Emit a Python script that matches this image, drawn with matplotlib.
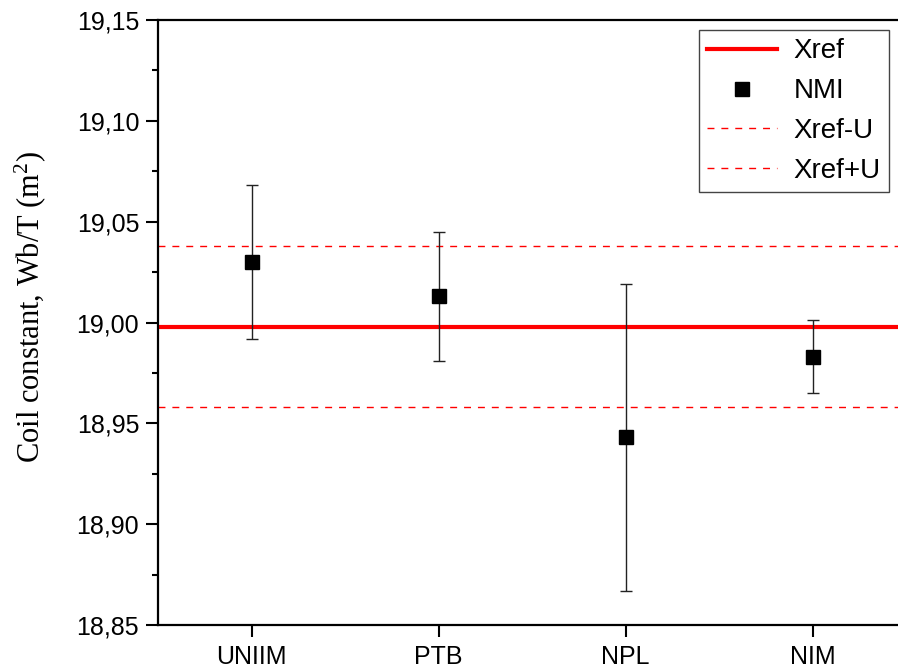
import numpy as np
import matplotlib.pyplot as plt
from matplotlib.lines import Line2D
from matplotlib.ticker import FuncFormatter, MultipleLocator

# Data
labs = ['UNIIM', 'PTB', 'NPL', 'NIM']
vals = [19.030, 19.013, 18.943, 18.983]
errs = [0.038, 0.032, 0.076, 0.018]
xref = 18.998
u_ref = 0.040

plt.rcParams['font.family'] = ['Liberation Sans', 'DejaVu Sans']
plt.rcParams['mathtext.fontset'] = 'custom'
plt.rcParams['mathtext.rm'] = 'Liberation Serif'
plt.rcParams['mathtext.it'] = 'Liberation Serif:italic'

fig = plt.figure(figsize=(8.98, 6.71), dpi=100)
# right side of the frame runs off the picture, as in the reference
ax = fig.add_axes([158 / 898, 46 / 671, (906 - 158) / 898, 605 / 671])

x = np.arange(1, len(labs) + 1)

ax.axhline(xref, color='red', lw=3, zorder=2)
ax.errorbar(x, vals, yerr=errs, fmt='s', color='black', ms=9.5, ecolor='#222222',
            elinewidth=1, capsize=4.5, capthick=1, zorder=3)
ax.axhline(xref - u_ref, color='red', lw=1, ls=(0, (5, 5)), zorder=2)
ax.axhline(xref + u_ref, color='red', lw=1, ls=(0, (5, 5)), zorder=2)

ax.set_xlim(0.5, 4.5)
ax.set_ylim(18.85, 19.15)
ax.set_xticks(x)
ax.set_xticklabels(labs)
ax.yaxis.set_major_locator(MultipleLocator(0.05))
ax.yaxis.set_minor_locator(MultipleLocator(0.025))
ax.yaxis.set_major_formatter(FuncFormatter(lambda v, p: f'{v:.2f}'.replace('.', ',')))

ax.tick_params(axis='both', which='major', direction='out', length=8.5, width=1.5,
               labelsize=18)
ax.tick_params(axis='x', which='major', pad=6)
ax.tick_params(axis='y', which='major', pad=5)
ax.tick_params(axis='y', which='minor', direction='out', length=4.5, width=1.5)
for s in ax.spines.values():
    s.set_linewidth(1.6)

ax.set_ylabel('Coil constant, Wb/T (m$^2$)', fontsize=22, family='Liberation Serif')
ax.yaxis.set_label_coords(-110 / 748, 0.525)

handles = [
    Line2D([], [], color='red', lw=3),
    Line2D([], [], color='black', marker='s', ms=9.5, ls='none'),
    Line2D([], [], color='red', lw=1, ls=(0, (5, 5))),
    Line2D([], [], color='red', lw=1, ls=(0, (5, 5))),
]
leg = ax.legend(handles, ['Xref', 'NMI', 'Xref-U', 'Xref+U'], loc='upper right',
                bbox_to_anchor=(889 / 898, 1 - 30 / 671), bbox_transform=fig.transFigure,
                fontsize=20, frameon=True, fancybox=False, edgecolor='#444444',
                framealpha=1, handlelength=2.5, handletextpad=0.6, labelspacing=0.5,
                borderpad=0.3, borderaxespad=0, numpoints=1)
leg.get_frame().set_linewidth(1)

fig.savefig('out.png', dpi=100)
